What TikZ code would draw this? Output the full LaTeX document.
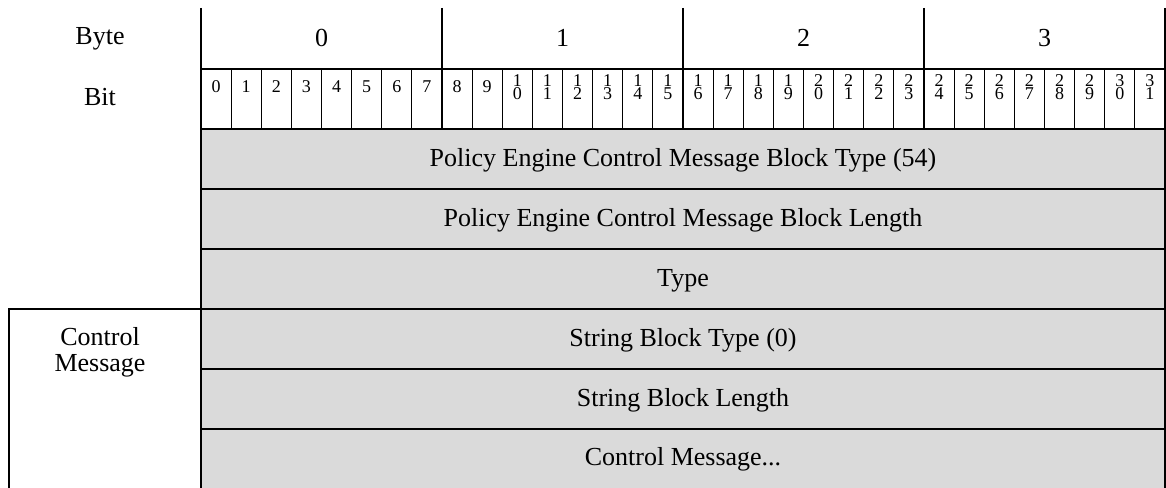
\documentclass[tikz,border=0pt]{standalone}
\usepackage{fontspec}
\setmainfont{Liberation Serif}
\definecolor{cellgray}{HTML}{DADADA}
\begin{document}
\begin{tikzpicture}[x=1pt,y=-1pt,
  thickline/.style={line width=2pt},
  thinline/.style={line width=1pt},
  maintext/.style={inner sep=0pt,anchor=base,font=\fontsize{26}{26}\selectfont},
  bittext/.style={inner sep=0pt,align=center,font=\fontsize{18}{12.5}\selectfont},
  leftlabel/.style={inner sep=0pt,align=center,anchor=base,font=\fontsize{26}{26}\selectfont}]
\useasboundingbox (0,0) rectangle (1166,487);
% gray body
\fill[cellgray] (201,129) rectangle (1165,490);
% thin bit lines
\foreach \k in {1,...,31}{
  \pgfmathtruncatemacro{\m}{mod(\k,8)}
  \ifnum\m=0\else
    \draw[thinline] ({201+\k*30.125},69) -- ({201+\k*30.125},129);
  \fi
}
% thick lines
\draw[thickline] (201,8) -- (201,490);
\draw[thickline] (1165,8) -- (1165,490);
\foreach \x in {442,683,924}{\draw[thickline] (\x,8) -- (\x,129);}
\foreach \y in {69,129,189,249,369,429}{\draw[thickline] (201,\y) -- (1165,\y);}
\draw[thickline] (9,490) -- (9,309) -- (1165,309);
% labels
\node[maintext] (byte) at (100,45) {Byte};
\node[maintext] (bit) at (100,105) {Bit};
\foreach \b in {0,1,2,3}{
  \node[maintext] (byte\b) at ({201+(\b+0.5)*241},46) {\b};
}
\foreach \k in {0,...,9}{
  \node[bittext] (bit\k) at ({201+(\k+0.5)*30.125},86.5) {\k};
}
\foreach \k/\a/\c in {10/1/0,11/1/1,12/1/2,13/1/3,14/1/4,15/1/5,16/1/6,17/1/7,18/1/8,19/1/9,20/2/0,21/2/1,22/2/2,23/2/3,24/2/4,25/2/5,26/2/6,27/2/7,28/2/8,29/2/9,30/3/0,31/3/1}{
  \node[bittext] (bit\k) at ({201+(\k+0.5)*30.125},87) {\a\\\c};
}
\node[maintext] (r1) at (683,166) {Policy Engine Control Message Block Type (54)};
\node[maintext] (r2) at (683,226) {Policy Engine Control Message Block Length};
\node[maintext] (r3) at (683,286) {Type};
\node[maintext] (r4) at (683,346) {String Block Type (0)};
\node[maintext] (r5) at (683,406) {String Block Length};
\node[maintext] (r6) at (683,465) {Control Message...};
\node[leftlabel] (cm) at (100,371) {Control\\Message};
\end{tikzpicture}
\end{document}
